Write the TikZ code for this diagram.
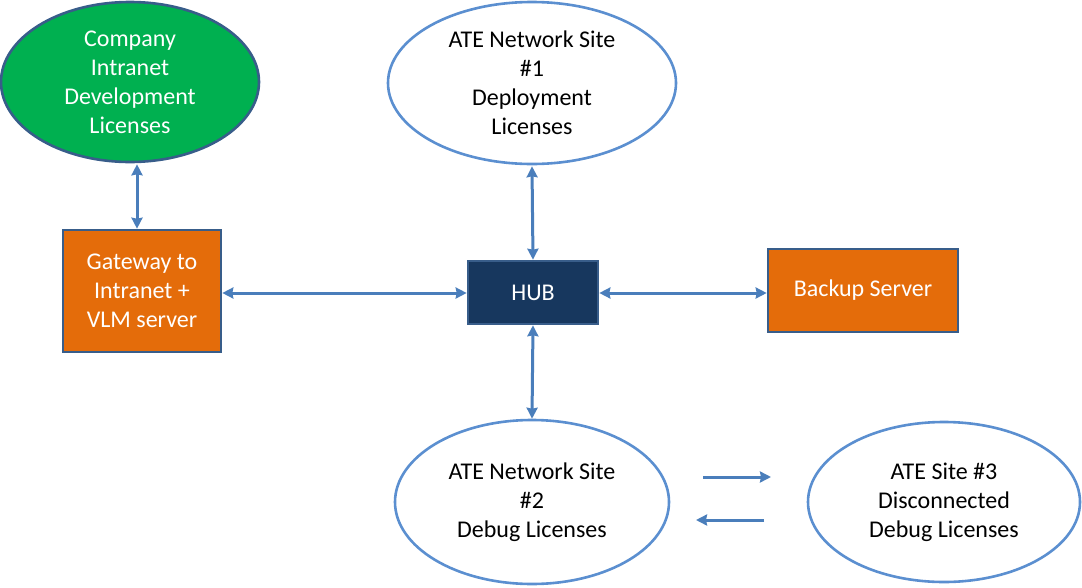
\documentclass[tikz,border=0pt]{standalone}
\usepackage{fontspec}
\setmainfont{Carlito}
\usetikzlibrary{shapes.geometric,arrows.meta}
\definecolor{greenfill}{HTML}{00B050}
\definecolor{orangefill}{HTML}{E46C0A}
\definecolor{hubfill}{HTML}{17375E}
\definecolor{darkborder}{HTML}{385D8A}
\definecolor{lineblue}{HTML}{4A7EBB}
\definecolor{ellborder}{HTML}{5B8FD0}
\begin{document}
\begin{tikzpicture}[x=1pt,y=-1pt,
  every node/.style={font=\fontsize{24}{29}\selectfont, align=center, inner sep=0pt},
  ell/.style={ellipse, draw=ellborder, line width=2.6pt, fill=white},
  greenell/.style={ellipse, draw=darkborder, line width=2.6pt, fill=greenfill, text=white},
  orangebox/.style={rectangle, draw=darkborder, line width=2.6pt, fill=orangefill, text=white},
  hubbox/.style={rectangle, draw=darkborder, line width=2.6pt, fill=hubfill, text=white},
  link/.style={draw=lineblue, line width=3pt, -{Stealth[length=11pt,width=11pt,inset=1pt]}},
  both/.style={draw=lineblue, line width=3pt, {Stealth[length=11pt,width=11pt,inset=1pt]}-{Stealth[length=11pt,width=11pt,inset=1pt]}}
]
\useasboundingbox (0,0) rectangle (1082,587);
\node[greenell, minimum width=258pt, minimum height=160pt] (intranet) at (130,82) {Company\\Intranet\\Development\\Licenses};
\node[ell, minimum width=288pt, minimum height=162pt] (ate1) at (532,83) {ATE Network Site\\\#1\\Deployment\\Licenses};
\node[orangebox, minimum width=158pt, minimum height=122pt] (gw) at (142,291) {Gateway to\\Intranet +\\VLM server};
\node[hubbox, minimum width=130pt, minimum height=63pt] (hub) at (533,292.5) {HUB};
\node[orangebox, minimum width=190pt, minimum height=83pt] (backup) at (863,290.5) {Backup Server};
\node[ell, minimum width=274pt, minimum height=164pt] (ate2) at (532,502) {ATE Network Site\\\#2\\Debug Licenses};
\node[ell, minimum width=272pt, minimum height=160pt] (ate3) at (944,502) {ATE Site \#3\\Disconnected\\Debug Licenses};
\coordinate (r1) at (703,477);
\coordinate (r2) at (771,477);
\coordinate (l1) at (764,520);
\coordinate (l2) at (696,520);
\draw[both] (intranet.south -| 137,0) ++(0,1) -- (gw.north -| 137,0);
\draw[both] (ate1.south) ++(0,1) -- (hub.north);
\draw[both] (gw.east |- 0,293) -- (hub.west |- 0,293);
\draw[both] (hub.east |- 0,293) -- (backup.west |- 0,293);
\draw[both] (hub.south) -- (ate2.north);
\draw[link] (r1) -- (r2);
\draw[link] (l1) -- (l2);
\end{tikzpicture}
\end{document}
